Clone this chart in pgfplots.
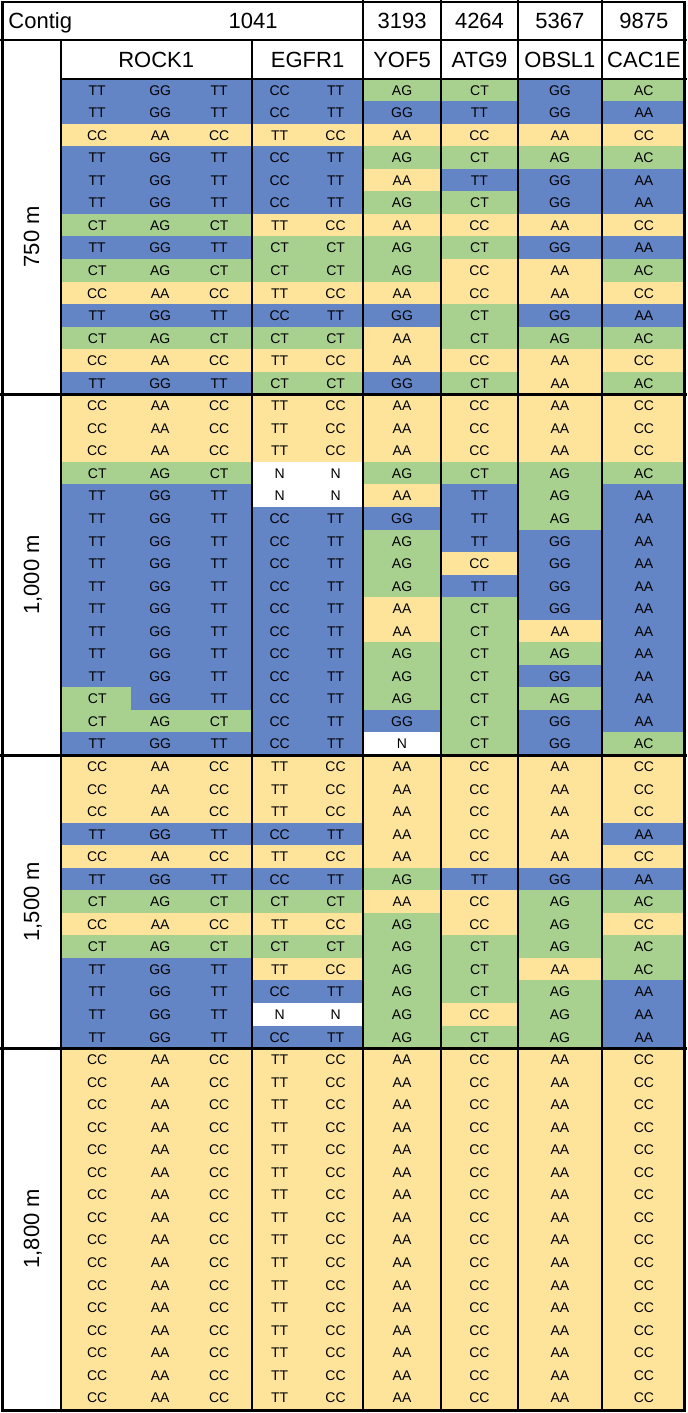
\documentclass[border=0pt]{standalone}
\usepackage{pgfplots}
\pgfplotsset{compat=1.18}
\usepackage{pgfplotstable}
\usepackage{fontspec}
\setmainfont{Liberation Sans}
\definecolor{cy}{HTML}{FEE49B}
\definecolor{cg}{HTML}{A8D08E}
\definecolor{cb}{HTML}{6384C5}
\newcommand\cellfont{\fontsize{14bp}{16bp}\selectfont}
\newcommand\hdrfont{\fontsize{22bp}{25bp}\selectfont}
\tikzset{cell w/.initial=60bp, cell h/.initial=23bp}
\pgfdeclareplotmark{cell}{%
  \pgfpathrectangle{\pgfpoint{-0.5*\pgfkeysvalueof{/tikz/cell w}}{-0.5*\pgfkeysvalueof{/tikz/cell h}}}%
                   {\pgfpoint{\pgfkeysvalueof{/tikz/cell w}}{\pgfkeysvalueof{/tikz/cell h}}}%
  \pgfusepath{fill}}
\pgfplotstableread{
r  c1 c2 c3 c4 c5 c6 c7 c8 c9
1  TT GG TT CC TT AG CT GG AC
2  TT GG TT CC TT GG TT GG AA
3  CC AA CC TT CC AA CC AA CC
4  TT GG TT CC TT AG CT AG AC
5  TT GG TT CC TT AA TT GG AA
6  TT GG TT CC TT AG CT GG AA
7  CT AG CT TT CC AA CC AA CC
8  TT GG TT CT CT AG CT GG AA
9  CT AG CT CT CT AG CC AA AC
10 CC AA CC TT CC AA CC AA CC
11 TT GG TT CC TT GG CT GG AA
12 CT AG CT CT CT AA CT AG AC
13 CC AA CC TT CC AA CC AA CC
14 TT GG TT CT CT GG CT AA AC
15 CC AA CC TT CC AA CC AA CC
16 CC AA CC TT CC AA CC AA CC
17 CC AA CC TT CC AA CC AA CC
18 CT AG CT N  N  AG CT AG AC
19 TT GG TT N  N  AA TT AG AA
20 TT GG TT CC TT GG TT AG AA
21 TT GG TT CC TT AG TT GG AA
22 TT GG TT CC TT AG CC GG AA
23 TT GG TT CC TT AG TT GG AA
24 TT GG TT CC TT AA CT GG AA
25 TT GG TT CC TT AA CT AA AA
26 TT GG TT CC TT AG CT AG AA
27 TT GG TT CC TT AG CT GG AA
28 CT GG TT CC TT AG CT AG AA
29 CT AG CT CC TT GG CT GG AA
30 TT GG TT CC TT N  CT GG AC
31 CC AA CC TT CC AA CC AA CC
32 CC AA CC TT CC AA CC AA CC
33 CC AA CC TT CC AA CC AA CC
34 TT GG TT CC TT AA CC AA AA
35 CC AA CC TT CC AA CC AA CC
36 TT GG TT CC TT AG TT GG AA
37 CT AG CT CT CT AA CC AG AC
38 CC AA CC TT CC AG CC AG CC
39 CT AG CT CT CT AG CT AG AC
40 TT GG TT TT CC AG CT AA AC
41 TT GG TT CC TT AG CT AG AA
42 TT GG TT N  N  AG CC AG AA
43 TT GG TT CC TT AG CT AG AA
44 CC AA CC TT CC AA CC AA CC
45 CC AA CC TT CC AA CC AA CC
46 CC AA CC TT CC AA CC AA CC
47 CC AA CC TT CC AA CC AA CC
48 CC AA CC TT CC AA CC AA CC
49 CC AA CC TT CC AA CC AA CC
50 CC AA CC TT CC AA CC AA CC
51 CC AA CC TT CC AA CC AA CC
52 CC AA CC TT CC AA CC AA CC
53 CC AA CC TT CC AA CC AA CC
54 CC AA CC TT CC AA CC AA CC
55 CC AA CC TT CC AA CC AA CC
56 CC AA CC TT CC AA CC AA CC
57 CC AA CC TT CC AA CC AA CC
58 CC AA CC TT CC AA CC AA CC
59 CC AA CC TT CC AA CC AA CC
}\gt
\pgfplotsset{
  cellplot/.style={scatter, only marks, mark=cell, scatter src=explicit symbolic, forget plot},
  labplot/.style={only marks, mark=none, point meta=explicit symbolic, forget plot,
    on layer=axis foreground, nodes near coords={\cellfont\pgfplotspointmeta},
    every node near coord/.append style={anchor=center, text=black,
      inner sep=0pt, text height=10bp, text depth=0pt}},
  gline/.style={black, no marks, forget plot, on layer=axis foreground, line cap=rect},
}
\tikzset{hdr/.style={font=\hdrfont, inner sep=0pt, text height=15.7bp, text depth=0pt}}
\begin{document}
\begin{tikzpicture}
\begin{axis}[
  set layers,
  x=1bp, y=22.56bp, y dir=reverse,
  xmin=0, xmax=685, ymin=-2.957, ymax=59.675,
  hide axis, clip=false,
]
\path (axis cs:0,-2.957) rectangle (axis cs:685,59.675);
% ROCK1
\addplot[cellplot, cell w=70.4bp, scatter/classes={CC={fill=cy},TT={fill=cb},CT={fill=cg}}]
  table[x expr=95, y=r, meta=c1] {\gt};
\addplot[cellplot, cell w=60.4bp, scatter/classes={AA={fill=cy},GG={fill=cb},AG={fill=cg}}]
  table[x expr=160, y=r, meta=c2] {\gt};
\addplot[cellplot, cell w=61.4bp, scatter/classes={CC={fill=cy},TT={fill=cb},CT={fill=cg}}]
  table[x expr=220.5, y=r, meta=c3] {\gt};
% EGFR1
\addplot[cellplot, cell w=56.4bp, scatter/classes={TT={fill=cy},CC={fill=cb},CT={fill=cg},N={fill=white}}]
  table[x expr=279, y=r, meta=c4] {\gt};
\addplot[cellplot, cell w=55.4bp, scatter/classes={CC={fill=cy},TT={fill=cb},CT={fill=cg},N={fill=white}}]
  table[x expr=334.5, y=r, meta=c5] {\gt};
% YOF5
\addplot[cellplot, cell w=78.4bp, scatter/classes={AA={fill=cy},GG={fill=cb},AG={fill=cg},N={fill=white}}]
  table[x expr=401, y=r, meta=c6] {\gt};
% ATG9
\addplot[cellplot, cell w=77.4bp, scatter/classes={CC={fill=cy},TT={fill=cb},CT={fill=cg}}]
  table[x expr=478.5, y=r, meta=c7] {\gt};
% OBSL1
\addplot[cellplot, cell w=84.4bp, scatter/classes={AA={fill=cy},GG={fill=cb},AG={fill=cg}}]
  table[x expr=559, y=r, meta=c8] {\gt};
% CAC1E
\addplot[cellplot, cell w=84bp, scatter/classes={CC={fill=cy},AA={fill=cb},AC={fill=cg}}]
  table[x expr=643, y=r, meta=c9] {\gt};

% genotype labels
\addplot[labplot] table[x expr=96, y=r, meta=c1] {\gt};
\addplot[labplot] table[x expr=159, y=r, meta=c2] {\gt};
\addplot[labplot] table[x expr=218, y=r, meta=c3] {\gt};
\addplot[labplot] table[x expr=278.5, y=r, meta=c4] {\gt};
\addplot[labplot] table[x expr=334.5, y=r, meta=c5] {\gt};
\addplot[labplot] table[x expr=401, y=r, meta=c6] {\gt};
\addplot[labplot] table[x expr=478.5, y=r, meta=c7] {\gt};
\addplot[labplot] table[x expr=559, y=r, meta=c8] {\gt};
\addplot[labplot] table[x expr=643, y=r, meta=c9] {\gt};

% grid lines
\addplot[gline, line width=2bp] coordinates {(0,-1.229) (685,-1.229)};
\addplot[gline, line width=2bp] coordinates {(60,0.5) (685,0.5)};
\addplot[gline, line width=2.6bp] coordinates {(0,14.5) (685,14.5)};
\addplot[gline, line width=2.6bp] coordinates {(0,30.5) (685,30.5)};
\addplot[gline, line width=2.6bp] coordinates {(0,43.5) (685,43.5)};
\addplot[gline, line width=2.2bp] coordinates {(60,-1.229) (60,59.6)};
\addplot[gline, line width=2.2bp] coordinates {(251,-1.229) (251,59.6)};
\addplot[gline, line width=2.2bp] coordinates {(362,-2.95) (362,59.6)};
\addplot[gline, line width=2.2bp] coordinates {(440,-2.95) (440,59.6)};
\addplot[gline, line width=2.2bp] coordinates {(517,-2.95) (517,59.6)};
\addplot[gline, line width=2.2bp] coordinates {(601,-2.95) (601,59.6)};
\addplot[gline, line width=2.4bp, line cap=butt] coordinates {(1.2,-2.904) (683.8,-2.904) (683.8,59.568) (1.2,59.568) (1.2,-2.904)} -- cycle;

% header texts
\node[hdr, anchor=west] at (7,-2.071) {Contig};
\node[hdr] at (252,-2.071) {1041};
\node[hdr] at (401,-2.071) {3193};
\node[hdr] at (478.5,-2.071) {4264};
\node[hdr] at (559,-2.071) {5367};
\node[hdr] at (643,-2.071) {9875};
\node[hdr] at (155,-0.342) {ROCK1};
\node[hdr] at (306.5,-0.342) {EGFR1};
\node[hdr] at (401,-0.342) {YOF5};
\node[hdr] at (478.5,-0.342) {ATG9};
\node[hdr] at (559,-0.342) {OBSL1};
\node[hdr] at (643,-0.342) {CAC1E};
\node[hdr, rotate=90] at (30,7.5) {750 m};
\node[hdr, rotate=90] at (30,22.5) {1,000 m};
\node[hdr, rotate=90] at (30,37) {1,500 m};
\node[hdr, rotate=90] at (30,51.5) {1,800 m};
\end{axis}
\end{tikzpicture}
\end{document}
